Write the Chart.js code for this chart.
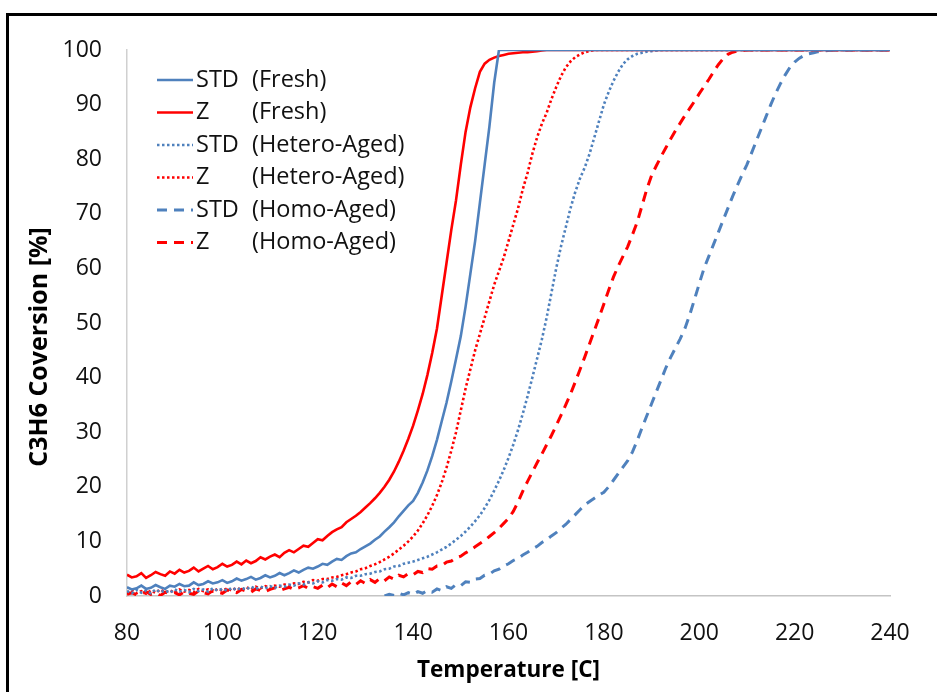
<!DOCTYPE html>
<html>
<head>
<meta charset="utf-8">
<script src="https://cdn.jsdelivr.net/npm/chart.js@4.4.1/dist/chart.umd.min.js"></script>
<style>
  html, body { margin: 0; padding: 0; background: #fff; }
  #wrap { position: relative; width: 937px; height: 692px; overflow: hidden; }
  #frame { position: absolute; left: 6px; top: 13px; width: 960px; height: 720px;
           border-top: 3px solid #000; border-left: 3px solid #000; box-sizing: border-box; }
  canvas { position: absolute; left: 0; top: 0; }
</style>
</head>
<body>
<div id="wrap">
  <canvas id="c" width="937" height="692"></canvas>
  <div id="frame"></div>
</div>
<script>
// Temperature [C]
const temps = [
 80,81,82,83,84,85,86,87,88,89,90,91,92,93,94,95,96,97,98,99,
 100,101,102,103,104,105,106,107,108,109,110,111,112,113,114,115,116,117,118,119,
 120,121,122,123,124,125,126,127,128,129,130,131,132,133,134,135,136,137,138,139,
 140,141,142,143,144,145,146,147,148,149,150,151,152,153,154,155,156,157,158,159,
 160,161,162,163,164,165,166,167,168,169,170,171,172,173,174,175,176,177,178,179,
 180,181,182,183,184,185,186,187,188,189,190,191,192,193,194,195,196,197,198,199,
 200,201,202,203,204,205,206,207,208,209,210,211,212,213,214,215,216,217,218,219,
 220,221,222,223,224,225,226,227,228,229,230,231,232,233,234,235,236,237,238,239,240
];

// STD (Fresh)
const stdFresh = [
 1.6,1.2,1.4,1.9,1.3,1.5,2.0,1.6,1.3,1.9, 1.7,2.2,1.8,1.9,2.5,2.0,2.2,2.7,2.3,2.5,
 2.9,2.4,2.7,3.2,2.8,3.1,3.5,3.0,3.3,3.8, 3.4,3.7,4.2,3.8,4.2,4.7,4.3,4.8,5.2,5.0,
 5.4,5.9,5.7,6.3,6.8,6.6,7.3,7.8,8.0,8.6, 9.1,9.6,10.3,10.9,11.8,12.6,13.5,14.6,15.6,16.6,
 17.4,18.9,20.8,23.0,25.6,28.6,32.0,35.4,39.3,43.4, 47.6,53,59,65,72,79,86,94,100,100,
 100,100,100,100,100,100,100,100,100,100, 100,100,100,100,100,100,100,100,100,100,
 100,100,100,100,100,100,100,100,100,100, 100,100,100,100,100,100,100,100,100,100,
 100,100,100,100,100,100,100,100,100,100, 100,100,100,100,100,100,100,100,100,100,
 100,100,100,100,100,100,100,100,100,100, 100,100,100,100,100,100,100,100,100,100,100
];

// Z (Fresh)
const zFresh = [
 3.9,3.4,3.6,4.2,3.3,3.8,4.4,4.0,3.7,4.5, 4.1,4.8,4.3,4.6,5.2,4.5,5.0,5.5,4.9,5.3,
 5.9,5.4,5.7,6.3,5.8,6.5,6.0,6.4,7.1,6.7, 7.2,7.6,7.1,7.9,8.4,8.0,8.6,9.2,9.0,9.7,
 10.4,10.2,11.0,11.7,12.2,12.6,13.5,14.1,14.7,15.4, 16.2,17.0,17.9,18.9,20.0,21.3,22.8,24.6,26.6,28.8,
 31.2,34.0,37.0,40.5,44.5,49,55,61,67,72.5, 79,85,89.5,93,96,97.5,98.2,98.6,98.9,99.1,
 99.3,99.4,99.5,99.6,99.6,99.7,99.8,99.9,100,100, 100,100,100,100,100,100,100,100,100,100,
 100,100,100,100,100,100,100,100,100,100, 100,100,100,100,100,100,100,100,100,100,
 100,100,100,100,100,100,100,100,100,100, 100,100,100,100,100,100,100,100,100,100,
 100,100,100,100,100,100,100,100,100,100, 100,100,100,100,100,100,100,100,100,100,100
];

// STD (Hetero-Aged)
const stdHetero = [
 0.9,0.5,1.1,0.6,1.0,0.5,1.2,0.7,1.0,0.6, 1.2,0.8,1.1,0.7,1.3,0.9,1.2,0.8,1.4,1.0,
 1.3,1.0,1.5,1.1,1.5,1.2,1.7,1.3,1.7,1.4, 1.8,1.5,1.9,1.7,2.1,1.9,2.3,2.1,2.5,2.3,
 2.7,2.5,2.9,2.8,3.1,3.0,3.4,3.3,3.7,3.7, 4.0,4.1,4.4,4.5,4.9,5.0,5.4,5.5,5.9,6.1,
 6.3,6.6,6.9,7.2,7.6,8.0,8.5,9.0,9.6,10.3, 11.0,11.8,12.7,13.7,14.8,16.1,17.6,19.3,21.1,23.1,
 25.3,27.7,30.4,33.4,36.6,40,43.5,47,51,55.5, 60,64,67.5,71,74,76.5,78.5,81,84,87,
 90,92.3,94.3,96,97.4,98.3,98.9,99.3,99.5,99.7, 99.8,99.9,100,100,100,100,100,100,100,100,
 100,100,100,100,100,100,100,100,100,100, 100,100,100,100,100,100,100,100,100,100,
 100,100,100,100,100,100,100,100,100,100, 100,100,100,100,100,100,100,100,100,100,100
];

// Z (Hetero-Aged)
const zHetero = [
 0.6,1.1,0.5,0.9,0.4,1.0,0.6,1.2,0.7,1.0, 0.6,1.2,0.8,1.1,0.7,1.3,0.9,1.2,0.8,1.3,
 1.0,1.4,1.0,1.5,1.1,1.6,1.2,1.7,1.4,1.8, 1.5,1.9,1.7,2.1,1.9,2.3,2.2,2.6,2.5,2.9,
 2.8,3.1,3.1,3.4,3.5,3.8,4.0,4.3,4.5,4.9, 5.1,5.5,5.8,6.2,6.7,7.2,7.8,8.5,9.2,10.0,
 10.9,12.0,13.3,14.8,16.5,18.5,20.8,23.5,26.6,30.0, 34.0,38,41.5,45,48,51,54,57,59.5,62,
 65,68,71,74.5,77.5,81,84,86.5,88.5,91, 93.2,95.2,96.8,97.9,98.7,99.2,99.6,99.8,100,100,
 100,100,100,100,100,100,100,100,100,100, 100,100,100,100,100,100,100,100,100,100,
 100,100,100,100,100,100,100,100,100,100, 100,100,100,100,100,100,100,100,100,100,
 100,100,100,100,100,100,100,100,100,100, 100,100,100,100,100,100,100,100,100,100,100
];

// STD (Homo-Aged)
const stdHomo = [
 null,null,null,null,null,null,null,null,null,null, null,null,null,null,null,null,null,null,null,null,
 null,null,null,null,null,null,null,null,null,null, null,null,null,null,null,null,null,null,null,null,
 null,null,null,null,null,null,null,null,null,null, null,null,null,null,0.0,0.3,0.1,0.5,0.2,0.6,
 0.3,0.8,0.5,1.0,0.7,1.3,1.0,1.7,1.4,2.1, 1.9,2.6,2.5,3.1,3.2,3.8,4.0,4.6,4.9,5.5,
 5.9,6.5,6.9,7.5,8.0,8.6,9.1,9.8,10.3,11.0, 11.6,12.4,13.1,14.0,14.9,15.8,16.7,17.3,17.9,18.5,
 19.0,20.0,21.2,22.4,23.6,24.8,26.4,28.5,30.8,33.0, 35.2,37.4,39.6,41.8,43.7,45.4,47.1,49.0,51.5,54.3,
 57.2,60,62.2,64.4,66.6,68.8,71,73.2,75.2,77.2, 79,81.2,83.4,85.6,87.8,90,92,93.8,95.4,96.8,
 97.8,98.5,99,99.3,99.5,99.7,99.8,99.9,100,100, 100,100,100,100,100,100,100,100,100,100,100
];

// Z (Homo-Aged)
const zHomo = [
 0.3,0.6,0.2,0.4,0.8,0.3,0.5,0.1,0.7,0.4, 0.6,0.2,0.8,0.5,0.3,0.9,0.6,0.4,1.0,0.7,
 0.5,1.1,0.8,0.6,1.2,0.9,0.7,1.3,1.0,0.8, 1.2,1.5,1.0,1.3,1.6,1.2,1.5,1.9,1.4,1.7,
 1.4,2.0,1.5,2.2,1.7,2.4,1.9,2.6,2.1,2.8, 2.3,3.0,2.5,3.2,2.8,3.5,3.1,3.8,3.5,4.1,
 3.9,4.5,4.3,5.0,4.9,5.5,5.6,6.2,6.4,7.0, 7.3,7.9,8.4,9.0,9.6,10.2,10.9,11.6,12.4,13.3,
 14.2,15.5,17.2,19.2,21.0,22.7,24.4,26.0,27.7,29.4, 31.2,33.1,35.0,37.0,39.2,41.5,43.8,46.2,48.6,51.0,
 53.5,56,58.4,60.4,62.2,64,66.2,68.5,71.5,74.5, 77,78.8,80.5,82.1,83.7,85.2,86.6,88,89.3,90.6,
 92,93.3,94.6,96,97.3,98.4,99.2,99.6,99.8,99.9, 100,100,100,100,100,100,100,100,100,100,
 100,100,100,100,100,100,100,100,100,100, 100,100,100,100,100,100,100,100,100,100,100
];

const xTicks = [80,100,120,140,160,180,200,220,240];
const yTicks = [0,10,20,30,40,50,60,70,80,90,100];
const seriesNames = ['STD','Z','STD','Z','STD','Z'];
const seriesKinds = ['(Fresh)','(Fresh)','(Hetero-Aged)','(Hetero-Aged)','(Homo-Aged)','(Homo-Aged)'];

const BLUE = '#4F81BD', RED = '#FF0000';
const FONT = "'Open Sans', 'Liberation Sans', sans-serif";

function pts(arr) { return temps.map((t, i) => ({ x: t, y: arr[i] })); }

const styles = [
  { data: stdFresh,  color: BLUE, dash: [],      width: 2.6 },
  { data: zFresh,    color: RED,  dash: [],      width: 2.6 },
  { data: stdHetero, color: BLUE, dash: [2.5,2.5], width: 2.6 },
  { data: zHetero,   color: RED,  dash: [2.5,2.5], width: 2.6 },
  { data: stdHomo,   color: BLUE, dash: [10,7],  width: 3 },
  { data: zHomo,     color: RED,  dash: [10,7],  width: 3 }
];

const datasets = styles.map((s, i) => ({
  label: seriesNames[i] + ' ' + seriesKinds[i],
  data: pts(s.data),
  borderColor: s.color,
  backgroundColor: s.color,
  borderDash: s.dash,
  borderWidth: s.width,
  pointRadius: 0,
  tension: 0,
  spanGaps: false,
  fill: false
}));

const overlay = {
  id: 'overlay',
  afterDraw(chart) {
    const ctx = chart.ctx;
    ctx.save();
    // legend
    const rows = [80, 112.5, 145, 177.5, 210, 242.5];
    chart.data.datasets.forEach((ds, i) => {
      const y = rows[i];
      ctx.beginPath();
      ctx.strokeStyle = ds.borderColor;
      ctx.lineWidth = ds.borderWidth;
      ctx.setLineDash(ds.borderDash);
      ctx.moveTo(157, y);
      ctx.lineTo(193, y);
      ctx.stroke();
      ctx.setLineDash([]);
      ctx.fillStyle = '#111';
      ctx.font = "23.5px " + FONT;
      ctx.textBaseline = 'middle';
      ctx.textAlign = 'left';
      ctx.fillText(seriesNames[i], 196, y);
      ctx.fillText(seriesKinds[i], 252, y);
    });
    // y axis title
    ctx.translate(40, 347);
    ctx.rotate(-Math.PI / 2);
    ctx.font = "bold 25px " + FONT;
    ctx.textAlign = 'center';
    ctx.textBaseline = 'middle';
    ctx.fillStyle = '#000';
    ctx.fillText('C3H6 Coversion [%]', 0, 0);
    ctx.restore();
  }
};

new Chart(document.getElementById('c'), {
  type: 'line',
  data: { datasets },
  options: {
    responsive: false,
    devicePixelRatio: 1,
    animation: false,
    layout: { padding: { left: 0, right: 47, top: 50, bottom: 8 } },
    plugins: { legend: { display: false }, tooltip: { enabled: false } },
    scales: {
      x: {
        type: 'linear', min: 80, max: 240,
        afterBuildTicks(scale) { scale.ticks = xTicks.map(v => ({ value: v })); },
        afterFit(scale) { scale.height = 88; },
        grid: { display: false, drawTicks: false },
        border: { display: true, color: '#c4c4c4', width: 1.5 },
        ticks: { color: '#111', font: { family: FONT, size: 23 }, padding: 24, maxRotation: 0 },
        title: { display: true, text: 'Temperature [C]', color: '#000',
                 font: { family: FONT, size: 22.5, weight: 'bold' }, padding: { top: 6, bottom: 0 } }
      },
      y: {
        type: 'linear', min: 0, max: 100,
        afterBuildTicks(scale) { scale.ticks = yTicks.map(v => ({ value: v })); },
        afterFit(scale) { scale.width = 127; },
        grid: { display: false, drawTicks: false },
        border: { display: true, color: '#d0d0d0', width: 1.5 },
        ticks: { color: '#111', font: { family: FONT, size: 23 }, padding: 25 }
      }
    }
  },
  plugins: [overlay]
});
</script>
</body>
</html>
